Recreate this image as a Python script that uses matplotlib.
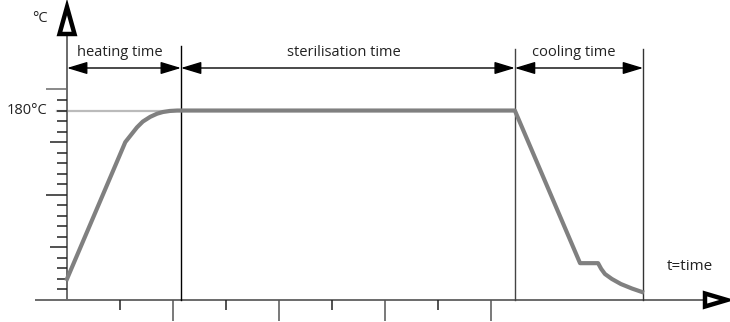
import matplotlib
matplotlib.use("Agg")
import matplotlib.pyplot as plt
from matplotlib.patches import Polygon
from matplotlib.patches import ArrowStyle

# ---- data ----
heat_t = [0.0, 0.77, 1.10, 1.21, 1.32, 1.43, 1.57, 1.70, 1.81, 1.94, 2.08, 2.15]
heat_T = [20, 111, 150, 157, 164, 169.5, 174, 177, 178.6, 179.6, 180, 180]
cool_t = [8.45, 9.68, 10.02, 10.08, 10.15, 10.28, 10.45, 10.66, 10.85]
cool_T = [180, 35, 35, 29.5, 24.7, 20, 15.2, 10.9, 7.6]
phase_bounds = [0.0, 2.15, 8.45, 10.87]
phase_labels = ["heating time", "sterilisation time", "cooling time"]
y_ticks = list(range(10, 210, 10))
x_ticks = [1, 2, 3, 4, 5, 6, 7, 8]
ref_temp = 180
ref_label = "180°C"
y_unit = "°C"
x_label = "t=time"

plt.rcParams['font.family'] = ['Open Sans', 'DejaVu Sans']

W, H = 730, 322
fig = plt.figure(figsize=(W / 100, H / 100), dpi=100)
ax = fig.add_axes([0, 0, 1, 1])
# pixel scale: 53 px per time unit, 1.0526 px per degree
PX_T = 53.0
PX_Y = 1.0526
x0_px, y0_px = 67, 300
ax.set_xlim(-x0_px / PX_T, (W - x0_px) / PX_T)
ax.set_ylim(-(H - y0_px) / PX_Y, y0_px / PX_Y)
ax.axis('off')

def dx(px):
    return px / PX_T

def dy(px):
    return px / PX_Y

TXT = '#222222'
AX_C = '#6a6a6a'

# axes lines
ax.plot([dx(35 - x0_px), dx(703 - x0_px)], [0, 0], color=AX_C, lw=1.4, solid_capstyle='butt')
ax.plot([0, 0], [0, dy(300 - 35)], color=AX_C, lw=1.4, solid_capstyle='butt')

# axis arrowheads (open triangles)
ytri = [(0, dy(300 - 7)), (dx(-7.5), dy(300 - 34)), (dx(7.5), dy(300 - 34))]
ax.add_patch(Polygon(ytri, closed=True, fc='white', ec='black', lw=3.2, joinstyle='miter', zorder=5))
xtri = [(dx(727 - x0_px), 0), (dx(705 - x0_px), dy(6.5)), (dx(705 - x0_px), dy(-6.5))]
ax.add_patch(Polygon(xtri, closed=True, fc='white', ec='black', lw=3.2, joinstyle='miter', zorder=5))

# y ticks
for v in y_ticks:
    if v % 100 == 0:
        L = 21
    elif v % 50 == 0:
        L = 17
    else:
        L = 10
    c = AX_C if v == 200 else '#222222'
    ax.plot([-dx(L), 0], [v, v], color=c, lw=1.1, solid_capstyle='butt')

# x ticks
for v in x_ticks:
    L = 21 if v % 2 == 0 else 10
    c = '#555555' if v % 2 == 0 else '#222222'
    ax.plot([v, v], [0, -dy(L)], color=c, lw=1.1, solid_capstyle='butt')

# reference line at 180
ax.plot([-dx(10), phase_bounds[1]], [ref_temp, ref_temp], color='#bbbbbb', lw=1.6, zorder=1)

# phase boundary lines
bound_colors = ['black', '#444444', '#333333']
tops = [300 - 46, 300 - 49, 300 - 49]
for b, c, tp in zip(phase_bounds[1:], bound_colors, tops):
    ax.plot([b, b], [0, dy(tp)], color=c, lw=1.0, zorder=2)

# temperature curve
curve_t = heat_t + cool_t
curve_T = heat_T + cool_T
ax.plot(curve_t, curve_T, color='#808080', lw=3.0, solid_joinstyle='round', zorder=3)

# dimension arrows
ay = dy(300 - 68)
style = ArrowStyle('<|-|>', head_length=1.25, head_width=0.38)
for a, b in zip(phase_bounds[:-1], phase_bounds[1:]):
    ax.annotate('', xy=(b, ay), xytext=(a, ay),
                arrowprops=dict(arrowstyle=style, mutation_scale=10, color='black', lw=1.0,
                                shrinkA=0, shrinkB=0), zorder=4)

# phase labels
label_x_px = [119.5, 343.5, 573.5]
for lx, lab in zip(label_x_px, phase_labels):
    ax.text(dx(lx - x0_px), dy(300 - 52), lab, ha='center', va='center', fontsize=10.5, color=TXT)

ax.text(dx(47 - x0_px), ref_temp, ref_label, ha='right', va='center', fontsize=10.5, color=TXT)
ax.text(dx(40 - x0_px), dy(300 - 18), y_unit, ha='center', va='center', fontsize=10.5, color=TXT)
ax.text(dx(690 - x0_px), dy(300 - 266), x_label, ha='center', va='center', fontsize=11, color=TXT)

fig.savefig('out.png', dpi=100)
